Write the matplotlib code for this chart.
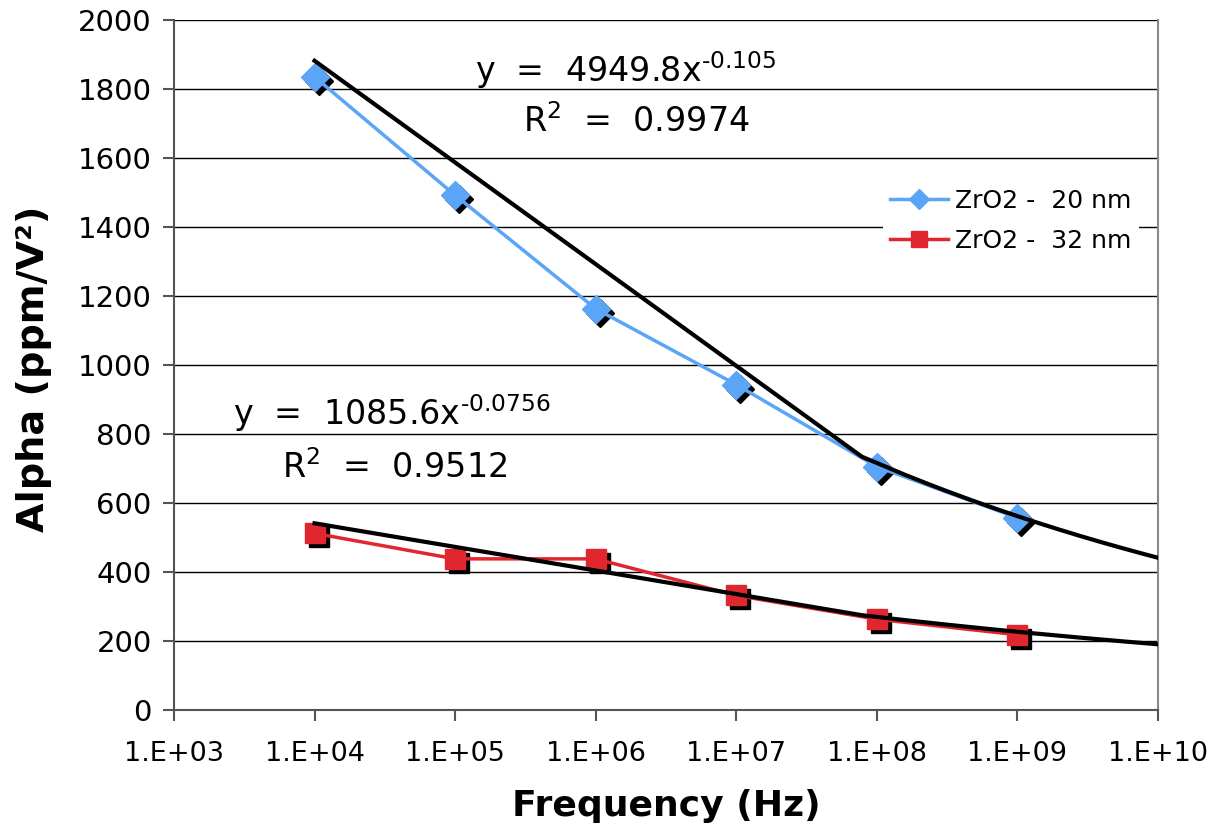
import numpy as np
import matplotlib
matplotlib.use("Agg")
import matplotlib.pyplot as plt
from matplotlib.transforms import offset_copy

freq = [1e4, 1e5, 1e6, 1e7, 1e8, 1e9]
alpha_20 = [1835, 1492, 1163, 943, 705, 557]
alpha_32 = [512, 438, 438, 332, 263, 218]
fit_20 = (4949.8, -0.105, 0.9974)
fit_32 = (1085.6, -0.0756, 0.9512)
xticks = [1e3, 1e4, 1e5, 1e6, 1e7, 1e8, 1e9, 1e10]
xtick_labels = ["1.E+03", "1.E+04", "1.E+05", "1.E+06", "1.E+07", "1.E+08", "1.E+09", "1.E+10"]
yticks = list(range(0, 2001, 200))

blue = "#5AA5F7"
red = "#E0262E"

fig = plt.figure(figsize=(12.19, 8.33), dpi=100)
ax = fig.add_axes([0.1427, 0.1477, 0.8073, 0.8283])
ax.set_xscale("log")
ax.set_xlim(1e3, 1e10)
ax.set_ylim(0, 2000)

for y in yticks[1:]:
    ax.axhline(y, color="black", lw=1.0, zorder=1)

# Excel-style trendline sampling (linear spacing in x)
xs = np.linspace(1e4, 1e10, 129)
for (a, b, r2) in (fit_20, fit_32):
    ax.plot(xs, a * xs ** b, color="black", lw=3, zorder=4)

shadow = offset_copy(ax.transData, fig=fig, x=4, y=-4, units="dots")
ax.plot(freq, alpha_20, ls="none", marker="D", ms=14, color="black", transform=shadow, zorder=2)
ax.plot(freq, alpha_32, ls="none", marker="s", ms=14, color="black", transform=shadow, zorder=2)
ax.plot(freq, alpha_20, color=blue, lw=2.5, zorder=3)
ax.plot(freq, alpha_32, color=red, lw=2.5, zorder=3)
ax.plot(freq, alpha_20, ls="none", marker="D", ms=14, color=blue, mec=blue, zorder=3.5)
ax.plot(freq, alpha_32, ls="none", marker="s", ms=14, color=red, mec=red, zorder=3.5)

l1, = ax.plot([], [], color=blue, lw=2.5, marker="D", ms=10, mec=blue, label="ZrO2 -  20 nm")
l2, = ax.plot([], [], color=red, lw=2.5, marker="s", ms=12, mec=red, label="ZrO2 -  32 nm")

ax.set_xticks(xticks)
ax.set_xticklabels(xtick_labels)
ax.minorticks_off()
ax.set_yticks(yticks)
ax.tick_params(axis="both", color="#555555", length=8, width=1.5, direction="out")
ax.tick_params(axis="x", labelsize=19.5, pad=14)
ax.tick_params(axis="y", labelsize=21, pad=8)
for s in ("left", "bottom"):
    ax.spines[s].set_color("#555555")
    ax.spines[s].set_linewidth(1.5)
ax.spines["top"].set_visible(False)
ax.spines["right"].set_color("#888888")
ax.spines["right"].set_linewidth(1.5)

ax.set_xlabel("Frequency (Hz)", fontsize=26, fontweight="bold", labelpad=16)
ax.set_ylabel("Alpha (ppm/V²)", fontsize=27.5, fontweight="bold")
ax.yaxis.set_label_coords(-0.124, 0.495)

def eq_text(a, b):
    return r"y  =  %.1fx$^{\text{%s}}$" % (a, str(b))

def r2_text(r2):
    return r"R$^{2}$  =  %.4f" % r2

ax.text(0.3059, 0.910, eq_text(fit_20[0], fit_20[1]), transform=ax.transAxes,
        fontsize=24, ha="left", va="baseline")
ax.text(0.3547, 0.8377, r2_text(fit_20[2]), transform=ax.transAxes,
        fontsize=24, ha="left", va="baseline")
ax.text(0.060, 0.413, eq_text(fit_32[0], fit_32[1]), transform=ax.transAxes,
        fontsize=24, ha="left", va="baseline")
ax.text(0.1098, 0.336, r2_text(fit_32[2]), transform=ax.transAxes,
        fontsize=24, ha="left", va="baseline")

leg = ax.legend(handles=[l1, l2], loc="center left", bbox_to_anchor=(0.7205, 0.709),
                borderaxespad=0, frameon=True, fontsize=18, handlelength=2.3,
                borderpad=0.3, labelspacing=0.65, handletextpad=0.3)
leg.get_frame().set_facecolor("white")
leg.get_frame().set_edgecolor("none")
leg.get_frame().set_alpha(1)
leg.get_frame().set_boxstyle("square", pad=0)
leg.set_zorder(5)

fig.savefig("out.png", dpi=100)
